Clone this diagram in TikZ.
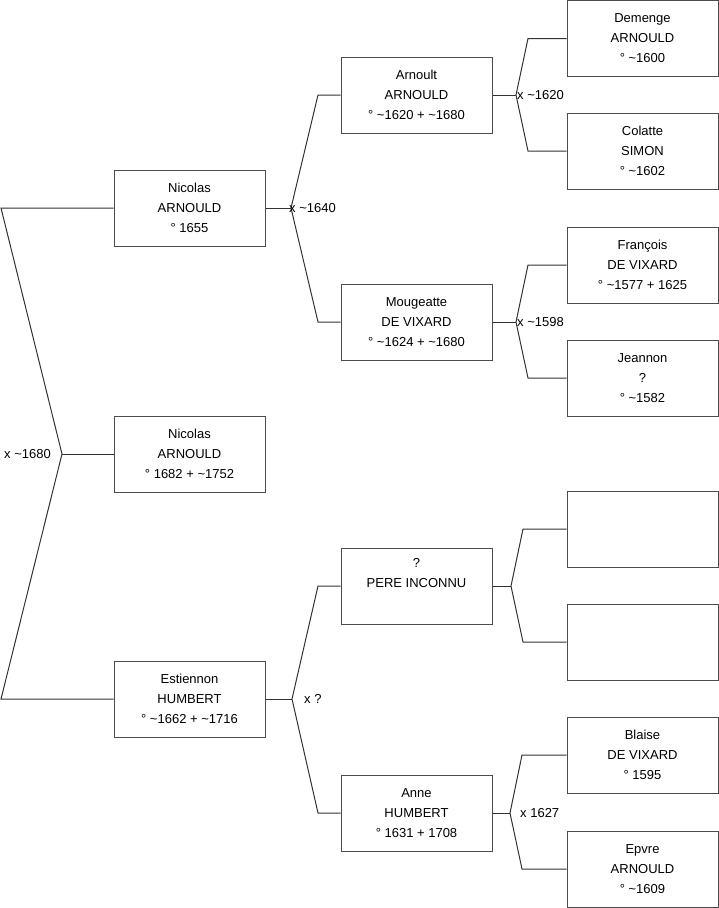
\documentclass[tikz,border=0pt]{standalone}
\usepackage{fontspec}
\setmainfont{Liberation Sans}
\begin{document}
\begin{tikzpicture}[x=1pt, y=-1pt,
  person/.style={draw=black!70, line width=1pt, minimum width=151pt, minimum height=76pt,
    align=center, inner sep=0pt, font=\fontsize{13}{20}\selectfont},
  link/.style={draw=black!80, line width=1pt},
  union/.style={inner sep=0pt, font=\fontsize{13}{15}\selectfont}]
\useasboundingbox (0,0) rectangle (719,908);
% generation 1
\node[person] (nicolas1) at (189.5,208) {Nicolas\\ARNOULD\\° 1655};
\node[person] (nicolas2) at (189.5,454) {Nicolas\\ARNOULD\\° 1682 + \textasciitilde1752};
\node[person] (estiennon) at (189.5,699) {Estiennon\\HUMBERT\\° \textasciitilde1662 + \textasciitilde1716};
% generation 2
\node[person] (arnoult) at (416.5,95) {Arnoult\\ARNOULD\\° \textasciitilde1620 + \textasciitilde1680};
\node[person] (mougeatte) at (416.5,322) {Mougeatte\\DE VIXARD\\° \textasciitilde1624 + \textasciitilde1680};
\node[person] (inconnu) at (416.5,586) {?\\PERE INCONNU\\\strut};
\node[person] (anne) at (416.5,813) {Anne\\HUMBERT\\° 1631 + 1708};
% generation 3
\node[person] (demenge) at (642.5,38.5) {Demenge\\ARNOULD\\° \textasciitilde1600};
\node[person] (colatte) at (642.5,151) {Colatte\\SIMON\\° \textasciitilde1602};
\node[person] (francois) at (642.5,265) {François\\DE VIXARD\\° \textasciitilde1577 + 1625};
\node[person] (jeannon) at (642.5,378) {Jeannon\\?\\° \textasciitilde1582};
\node[person] (blank1) at (642.5,529) {};
\node[person] (blank2) at (642.5,642) {};
\node[person] (blaise) at (642.5,755) {Blaise\\DE VIXARD\\° 1595};
\node[person] (epvre) at (642.5,869) {Epvre\\ARNOULD\\° \textasciitilde1609};
% unions
\coordinate (u0) at (62,454);
\coordinate (u0a) at (1,208);
\coordinate (u0b) at (1,699);
\coordinate (u1) at (291,208);
\coordinate (u1a) at (318,95);
\coordinate (u1b) at (318,322);
\coordinate (u2) at (292,699);
\coordinate (u2a) at (318,586);
\coordinate (u2b) at (318,813);
\coordinate (u3) at (516,95);
\coordinate (u3a) at (528,38.5);
\coordinate (u3b) at (528,151);
\coordinate (u4) at (516,322);
\coordinate (u4a) at (528,265);
\coordinate (u4b) at (528,378);
\coordinate (u5) at (511,586);
\coordinate (u5a) at (523,529);
\coordinate (u5b) at (523,642);
\coordinate (u6) at (510,813);
\coordinate (u6a) at (522,755);
\coordinate (u6b) at (522,869);
\draw[link] (nicolas1.west) -- (u0a) -- (u0) -- (u0b) -- (estiennon.west);
\draw[link] (u0) -- (nicolas2.west);
\draw[link] (arnoult.west) -- (u1a) -- (u1) -- (u1b) -- (mougeatte.west);
\draw[link] (nicolas1.east) -- (u1);
\draw[link] (inconnu.west) -- (u2a) -- (u2) -- (u2b) -- (anne.west);
\draw[link] (estiennon.east) -- (u2);
\draw[link] (demenge.west) -- (u3a) -- (u3) -- (u3b) -- (colatte.west);
\draw[link] (arnoult.east) -- (u3);
\draw[link] (francois.west) -- (u4a) -- (u4) -- (u4b) -- (jeannon.west);
\draw[link] (mougeatte.east) -- (u4);
\draw[link] (blank1.west) -- (u5a) -- (u5) -- (u5b) -- (blank2.west);
\draw[link] (inconnu.east) -- (u5);
\draw[link] (blaise.west) -- (u6a) -- (u6) -- (u6b) -- (epvre.west);
\draw[link] (anne.east) -- (u6);
% dates of the unions
\node[union, anchor=east, xshift=-11pt] (d0) at (u0) {x \textasciitilde1680};
\node[union, anchor=west, xshift=-2pt] (d1) at (u1) {x \textasciitilde1640};
\node[union, anchor=west, xshift=12pt] (d2) at (u2) {x ?};
\node[union, anchor=west, xshift=1pt] (d3) at (u3) {x \textasciitilde1620};
\node[union, anchor=west, xshift=1pt] (d4) at (u4) {x \textasciitilde1598};
\node[union, anchor=west, xshift=10pt] (d6) at (u6) {x 1627};
\end{tikzpicture}
\end{document}
